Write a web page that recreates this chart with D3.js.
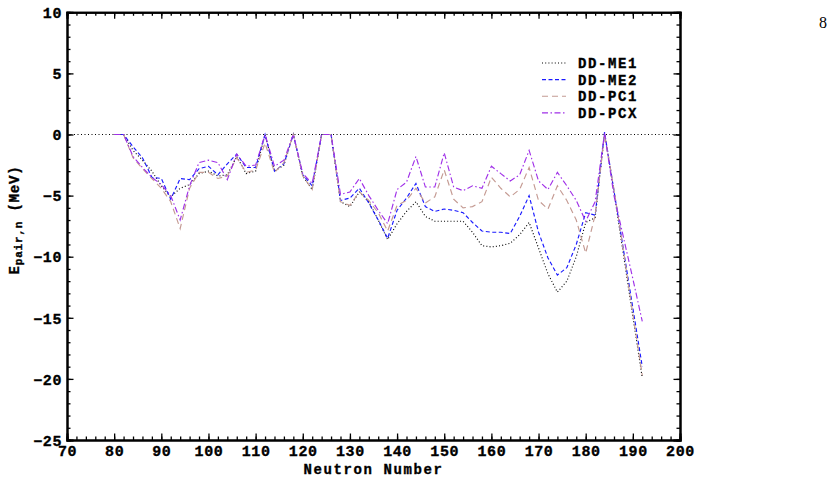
<!DOCTYPE html>
<html lang="en">
<head>
<meta charset="UTF-8">
<title>Pairing energy</title>
<script src="https://d3js.org/d3.v7.min.js"></script>
<style>
  body { margin: 0; background: #fff; }
  text { font-family: "Liberation Mono", "DejaVu Sans Mono", monospace; font-weight: bold; fill: #000;
         stroke: #000; stroke-width: 0.35px; }
</style>
</head>
<body>
<svg width="835" height="482"></svg>
<script>
// neutron numbers (x categories)
let neutrons = [80, 82, 84, 86, 88, 90, 92, 94, 96, 98, 100, 102, 104, 106, 108, 110, 112, 114, 116, 118,
  120, 122, 124, 126, 128, 130, 132, 134, 136, 138, 140, 142, 144, 146, 148, 150, 152, 154, 156, 158,
  160, 162, 164, 166, 168, 170, 172, 174, 176, 178, 180, 182, 184, 186, 188, 190, 192];

// pairing energies in MeV, one list per functional
let ddme1 = [0, 0,
  -1.3, -2.1, -3.0, -4.2, -5.1,
  -4.4, -4.1, -3.2, -3.0, -3.4, -3.3, -1.8, -3.2, -3.0,
  0, -3.0, -2.5, 0,
  -3.4, -4.5, 0, 0,
  -5.5, -5.9, -4.7, -5.5, -7.0, -8.6, -7.3, -6.3,
  -5.5, -6.7, -7.1, -7.1, -7.1, -7.1, -8.0, -9.1,
  -9.2, -9.1, -8.9, -8.2, -7.2, -9.3, -11.4, -12.9,
  -12.0, -10.0, -7.2, -6.8, 0.1, -4.7, -9.8, -14.9, -19.9];
let ddme2 = [0, 0,
  -1.0, -1.9, -3.5, -3.6, -5.3,
  -3.6, -3.7, -2.8, -2.6, -3.3, -2.4, -1.6, -2.7, -2.7,
  0, -3.0, -2.4, 0,
  -3.3, -4.2, 0, 0,
  -5.4, -5.2, -4.4, -5.6, -7.0, -8.5, -6.2, -5.2,
  -4.0, -5.9, -6.3, -6.1, -6.2, -6.4, -7.2, -7.9,
  -8.0, -8.0, -8.1, -6.7, -5.0, -8.0, -10.1, -11.5,
  -10.9, -9.0, -6.4, -6.6, 0.2, -4.6, -9.4, -14.2, -19.0];
let ddpc1 = [0, 0,
  -1.9, -2.8, -3.6, -4.4, -5.5,
  -7.7, -4.4, -3.1, -3.1, -3.6, -3.4, -1.9, -3.1, -2.9,
  -0.7, -3.1, -2.3, 0,
  -3.4, -4.5, 0, 0,
  -5.5, -5.8, -4.7, -5.4, -6.4, -7.9, -5.8, -5.4,
  -4.4, -5.6, -5.1, -2.9, -5.3, -6.0, -5.9, -5.5,
  -3.5, -4.4, -5.1, -4.5, -2.7, -5.4, -6.1, -4.2,
  -5.4, -7.0, -9.7, -6.6, 0, -4.5, -9.5, -14.7, -19.7];
let ddpcx = [0, 0,
  -1.8, -2.7, -3.5, -4.1, -5.0,
  -7.0, -4.2, -2.3, -2.1, -2.3, -3.7, -1.6, -2.6, -2.5,
  0, -2.6, -2.1, 0,
  -3.2, -4.0, 0, 0,
  -4.9, -4.7, -3.6, -5.0, -6.2, -7.3, -4.5, -3.9,
  -1.8, -4.3, -4.3, -1.5, -4.3, -4.6, -4.2, -4.4,
  -2.6, -3.2, -3.8, -3.3, -1.3, -3.8, -4.5, -3.1,
  -4.2, -5.4, -7.1, -5.5, 0.1, -5.0, -8.4, -11.8, -15.3];

let seriesNames = ["DD-ME1", "DD-ME2", "DD-PC1", "DD-PCX"];
let seriesValues = [ddme1, ddme2, ddpc1, ddpcx];
let seriesColors = ["#000000", "#1a1aff", "#c49a92", "#a030e8"];
let seriesDash = ["1,2.2", "4,2.5", "6,4", "6,2.5,1.5,2.5"];

let xTicks = [70, 80, 90, 100, 110, 120, 130, 140, 150, 160, 170, 180, 190, 200];
let yTicks = [10, 5, 0, -5, -10, -15, -20, -25];

let plotL = 67, plotR = 680, plotT = 12.3, plotB = 440;
let svg = d3.select("svg");

let x = d3.scaleLinear().domain([70, 200]).range([plotL, plotR]);
let y = d3.scaleLinear().domain([-25, 10]).range([plotB, plotT]);

// zero reference line
svg.append("line")
  .attr("x1", plotL).attr("x2", plotR)
  .attr("y1", y(0)).attr("y2", y(0))
  .attr("stroke", "#000").attr("stroke-width", 1)
  .attr("stroke-dasharray", "1,2.5");

// curves
let line = d3.line().x((d, i) => x(neutrons[i])).y(d => y(d));
seriesValues.forEach((vals, k) => {
  svg.append("path")
    .attr("d", line(vals))
    .attr("fill", "none")
    .attr("stroke", seriesColors[k])
    .attr("stroke-width", 1.15)
    .attr("stroke-dasharray", seriesDash[k]);
});

// axes, ticks pointing inwards on all four sides
function frameAxis(gen, scale, major, minor, tx, ty, labels) {
  let g = svg.append("g").attr("transform", `translate(${tx},${ty})`);
  g.call(gen(scale).tickValues(minor).tickSize(-3.5).tickFormat(""));
  let g2 = svg.append("g").attr("transform", `translate(${tx},${ty})`);
  g2.call(gen(scale).tickValues(major).tickSize(-6.5).tickPadding(labels ? 5 : 0)
    .tickFormat(labels ? d3.format("d") : ""));
  [g, g2].forEach(s => {
    s.select(".domain").attr("stroke", "#000").attr("stroke-width", 2);
    s.selectAll(".tick line").attr("stroke", "#000").attr("stroke-width", 1.3);
    s.selectAll("text").style("font-size", "15px").style("letter-spacing", "0.6px")
      .attr("fill", "#000");
  });
  return g2;
}
let minorX = d3.range(70, 201, 2);
let minorY = d3.range(-25, 11, 1);
frameAxis(d3.axisBottom, x, xTicks, minorX, 0, plotB, true);
frameAxis(d3.axisTop, x, xTicks, minorX, 0, plotT, false);
let yl = frameAxis(d3.axisLeft, y, yTicks, minorY, plotL, 0, true);
frameAxis(d3.axisRight, y, yTicks, minorY, plotR, 0, false);
yl.selectAll("text").attr("dy", "0.35em");

// axis titles
svg.append("text")
  .attr("x", (plotL + plotR) / 2).attr("y", 474)
  .attr("text-anchor", "middle")
  .style("font-size", "14px").style("letter-spacing", "1.6px")
  .text("Neutron Number");

let ylab = svg.append("text")
  .attr("transform", "translate(19,220) rotate(-90)")
  .attr("text-anchor", "middle")
  .style("font-size", "14px").style("letter-spacing", "0.8px");
ylab.append("tspan").text("E");
ylab.append("tspan").attr("dy", 3).style("font-size", "11px").text("pair,n");
ylab.append("tspan").attr("dy", -3).text(" (MeV)");

// legend
let legend = svg.append("g");
seriesNames.forEach((name, k) => {
  let ly = 63 + k * 16.6;
  legend.append("line")
    .attr("x1", 542).attr("x2", 566).attr("y1", ly).attr("y2", ly)
    .attr("stroke", seriesColors[k]).attr("stroke-width", 1.15)
    .attr("stroke-dasharray", seriesDash[k]);
  legend.append("text")
    .attr("x", 578).attr("y", ly + 5)
    .style("font-size", "14px").style("letter-spacing", "1.6px")
    .text(name);
});

// page number
svg.append("text")
  .attr("x", 823).attr("y", 28)
  .attr("text-anchor", "middle")
  .style("font-family", "'Liberation Serif', 'DejaVu Serif', serif")
  .style("font-weight", "normal")
  .style("stroke-width", "0")
  .style("font-size", "16px")
  .text("8");
</script>
</body>
</html>
